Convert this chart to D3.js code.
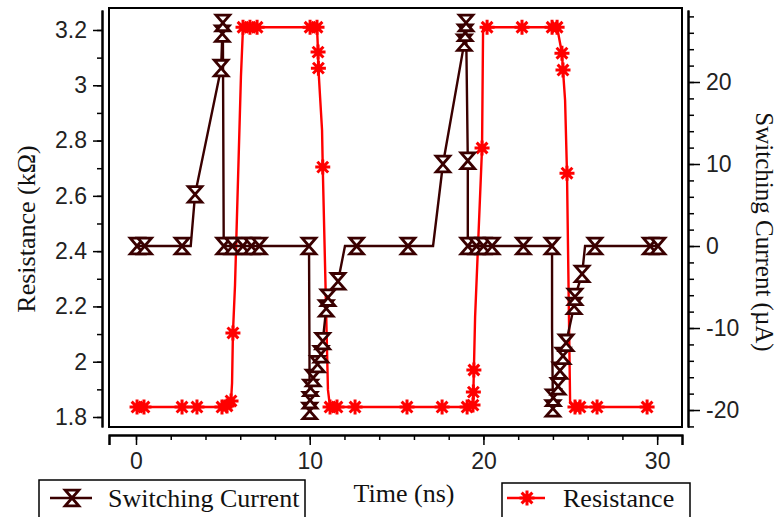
<!DOCTYPE html>
<html>
<head>
<meta charset="utf-8">
<script src="https://cdn.jsdelivr.net/npm/d3@7"></script>
<style>
  body { margin: 0; background: #fff; }
  svg { display: block; }
</style>
</head>
<body>
<script>
// switching current (uA) vs time (ns); marker flag 0 = bend without symbol
const currentTime = [
  0.06, 0.5, 2.65, 3.15, 3.4, 4.9, 4.97, 5.0, 5.05, 5.55, 6.15, 6.65, 7.1,
  9.96, 10.0, 10.02, 10.05, 10.2, 10.45, 10.65, 10.75, 10.95, 11.05, 11.63, 12.03,
  12.7, 15.66, 17.1, 17.67, 18.9, 18.95, 19.0, 19.1, 19.1, 19.6, 20.0, 20.5, 22.3,
  23.95, 23.95, 24.0, 24.02, 24.3, 24.41, 24.58, 24.76, 25.22, 25.27, 25.68, 25.85,
  26.42, 29.6, 30.05
];
const currentValue = [
  0, 0, 0, 0, 6.3, 21.7, 25.9, 27.2, 0, 0, 0, 0, 0,
  0, -20.1, -18.8, -17.3, -16.1, -14.4, -13.2, -11.6, -7.6, -6.3, -4.3, 0,
  0, 0, 0, 10.0, 24.8, 26.0, 27.2, 10.4, 0, 0, 0, 0, 0,
  0, -10, -19.8, -18.5, -17.1, -15.2, -13.4, -11.8, -7.3, -6.2, -3.4, 0,
  0, 0, 0
];
const currentMarked = [
  1, 1, 1, 0, 1, 1, 1, 1, 1, 1, 1, 1, 1,
  1, 1, 1, 1, 1, 1, 1, 1, 1, 1, 1, 0,
  1, 1, 0, 1, 1, 1, 1, 1, 1, 1, 1, 1, 1,
  1, 0, 1, 1, 1, 1, 1, 1, 1, 1, 1, 0,
  1, 1, 1
];

// resistance (kOhm) vs time (ns)
const resistanceTime = [
  0.06, 0.46, 2.65, 3.51, 4.95, 5.24, 5.47, 5.53, 5.58, 5.7, 6.04, 6.16, 6.56, 6.97,
  10.02, 10.42, 10.48, 10.5, 10.59, 10.71, 10.75, 11.05, 11.17, 11.57, 12.61, 15.6, 17.62,
  19.06, 19.4, 19.42, 19.45, 19.52, 19.92, 19.98, 20.21, 22.22, 23.95, 24.24,
  24.52, 24.58, 24.7, 24.81, 24.99, 25.27, 25.56, 26.54, 29.42
];
const resistanceValue = [
  1.836, 1.836, 1.836, 1.836, 1.836, 1.84, 1.858, 1.923, 2.104, 2.277, 3.03, 3.21, 3.21, 3.21,
  3.21, 3.21, 3.12, 3.062, 2.965, 2.838, 2.704, 1.898, 1.836, 1.836, 1.836, 1.836, 1.836,
  1.836, 1.843, 1.89, 1.97, 2.162, 2.773, 3.21, 3.21, 3.21, 3.21, 3.21,
  3.116, 3.055, 2.946, 2.682, 1.851, 1.836, 1.836, 1.836, 1.836
];
const resistanceMarked = [
  1, 1, 1, 1, 1, 1, 1, 0, 1, 0, 0, 1, 1, 1,
  1, 1, 1, 1, 0, 0, 1, 0, 1, 1, 1, 1, 1,
  1, 1, 1, 1, 0, 1, 0, 1, 1, 1, 1,
  1, 1, 0, 1, 0, 1, 1, 1, 1
];

const timeTicks = [0, 10, 20, 30];
const resistanceTicks = [1.8, 2, 2.2, 2.4, 2.6, 2.8, 3, 3.2];
const currentTicks = [-20, -10, 0, 10, 20];
const seriesNames = ['Switching Current', 'Resistance'];

const width = 779;
const height = 517;
const plot = { left: 109, right: 682, top: 8, bottom: 427 };
const currentColor = '#3a0000';
const resistanceColor = '#ff0000';
const serif = '"Liberation Serif", "Times New Roman", serif';
const sans = '"Liberation Sans", Arial, sans-serif';

function main() {
  const svg = d3.select('body').append('svg').attr('width', width).attr('height', height);

  const x = d3.scaleLinear().domain([-1.554, 31.43]).range([plot.left, plot.right]);
  const yRes = d3.scaleLinear().domain([1.7638, 3.2723]).range([plot.bottom, 10]);
  const yCur = d3.scaleLinear().domain([-22.07, 28.78]).range([plot.bottom, 10]);

  drawAxes(svg, x, yRes, yCur);

  svg.append('rect')
    .attr('x', plot.left).attr('y', plot.top)
    .attr('width', plot.right - plot.left).attr('height', plot.bottom - plot.top)
    .attr('fill', 'none').attr('stroke', '#000').attr('stroke-width', 2);

  const resistance = resistanceTime.map((t, i) => ({ t, v: resistanceValue[i], m: resistanceMarked[i] }));
  const current = currentTime.map((t, i) => ({ t, v: currentValue[i], m: currentMarked[i] }));

  drawSeries(svg, resistance, x, yRes, resistanceColor, asterisk);
  drawSeries(svg, current, x, yCur, currentColor, hourglass);

  drawTitles(svg);
  drawLegend(svg);
}

function hourglass(g, color) {
  const w = 6.8, h = 7.8;
  g.append('path')
    .attr('d', `M${-w},${-h}H${w}L0,0Z M${-w},${h}H${w}L0,0Z`)
    .attr('fill', '#fff').attr('stroke', color).attr('stroke-width', 2.8)
    .attr('stroke-linejoin', 'miter');
}

function asterisk(g, color) {
  const r = 7.5, d = r * 0.72;
  g.append('path')
    .attr('d', `M0,${-r}V${r} M${-r},0H${r} M${-d},${-d}L${d},${d} M${-d},${d}L${d},${-d}`)
    .attr('stroke', color).attr('stroke-width', 3).attr('fill', 'none');
  g.append('circle').attr('r', 3.2).attr('fill', color);
}

function drawSeries(svg, data, x, y, color, symbol) {
  const line = d3.line().x(d => x(d.t)).y(d => y(d.v));
  svg.append('path')
    .datum(data)
    .attr('d', line)
    .attr('fill', 'none')
    .attr('stroke', color)
    .attr('stroke-width', 2.4);

  svg.append('g')
    .selectAll('g')
    .data(data.filter(d => d.m))
    .enter()
    .append('g')
    .attr('transform', d => `translate(${x(d.t)},${y(d.v)})`)
    .each(function () { symbol(d3.select(this), color); });
}

function styleAxis(g) {
  g.select('.domain').attr('stroke', '#000').attr('stroke-width', 2);
  g.selectAll('.tick line').attr('stroke', '#000').attr('stroke-width', 1.5);
  g.selectAll('.tick text').attr('fill', '#222').style('font-family', sans).style('font-size', '23px');
}

function drawAxes(svg, x, yRes, yCur) {
  const minorTime = d3.range(-1, 16).map(d => d * 2);
  const minorRes = d3.range(18, 33).map(d => d / 10);
  const minorCur = d3.range(-11, 15).map(d => d * 2);

  // bottom axis
  svg.append('g')
    .attr('transform', `translate(0, 435)`)
    .call(d3.axisBottom(x).tickValues(minorTime.filter(d => x(d) >= plot.left)).tickFormat('').tickSize(5).tickSizeOuter(10))
    .call(styleAxis);
  svg.append('g')
    .attr('transform', `translate(0, 435)`)
    .call(d3.axisBottom(x).tickValues(timeTicks).tickFormat(d => `${d}`).tickSize(10).tickPadding(8).tickSizeOuter(10))
    .call(styleAxis);

  // left axis
  svg.append('g')
    .attr('transform', `translate(102, 0)`)
    .call(d3.axisLeft(yRes).tickValues(minorRes).tickFormat('').tickSize(5).tickSizeOuter(0))
    .call(styleAxis);
  svg.append('g')
    .attr('transform', `translate(102, 0)`)
    .call(d3.axisLeft(yRes).tickValues(resistanceTicks).tickFormat(d => `${d}`).tickSize(9).tickPadding(6).tickSizeOuter(0))
    .call(styleAxis);

  // right axis
  svg.append('g')
    .attr('transform', `translate(688, 0)`)
    .call(d3.axisRight(yCur).tickValues(minorCur).tickFormat('').tickSize(6).tickSizeOuter(0))
    .call(styleAxis);
  svg.append('g')
    .attr('transform', `translate(688, 0)`)
    .call(d3.axisRight(yCur).tickValues(currentTicks).tickFormat(d => `${d}`).tickSize(12).tickPadding(6).tickSizeOuter(0))
    .call(styleAxis);
}

function drawTitles(svg) {
  svg.append('text')
    .attr('transform', 'translate(26, 229) rotate(-90)')
    .attr('text-anchor', 'middle').attr('dominant-baseline', 'central')
    .style('font-family', serif).style('font-size', '26px').attr('fill', '#111')
    .text('Resistance (kΩ)');

  svg.append('text')
    .attr('transform', 'translate(764, 232) rotate(90)')
    .attr('text-anchor', 'middle').attr('dominant-baseline', 'central')
    .style('font-family', serif).style('font-size', '25px').attr('fill', '#111')
    .text('Switching Current (µA)');

  svg.append('text')
    .attr('x', 404).attr('y', 502)
    .attr('text-anchor', 'middle')
    .style('font-family', serif).style('font-size', '26px').attr('fill', '#111')
    .text('Time (ns)');
}

function drawLegend(svg) {
  const boxes = [
    { x0: 39, x1: 305, y0: 480, color: currentColor, symbol: hourglass, lx: [50, 92], mx: 72, tx: 108 },
    { x0: 502, x1: 690, y0: 483, color: resistanceColor, symbol: asterisk, lx: [507, 545], mx: 527, tx: 563 },
  ];
  const legend = svg.append('g').selectAll('g').data(boxes).enter().append('g');

  legend.append('rect')
    .attr('x', d => d.x0).attr('y', d => d.y0)
    .attr('width', d => d.x1 - d.x0).attr('height', 60)
    .attr('fill', '#fff').attr('stroke', '#000').attr('stroke-width', 1.5);

  legend.append('line')
    .attr('x1', d => d.lx[0]).attr('x2', d => d.lx[1])
    .attr('y1', 498).attr('y2', 498)
    .attr('stroke', d => d.color).attr('stroke-width', 2.4);

  legend.append('g')
    .attr('transform', d => `translate(${d.mx}, 498)`)
    .each(function (d) { d.symbol(d3.select(this), d.color); });

  legend.append('text')
    .attr('x', d => d.tx).attr('y', 507)
    .style('font-family', serif).style('font-size', '26px').attr('fill', '#111')
    .text((d, i) => seriesNames[i]);
}

main();
</script>
</body>
</html>
